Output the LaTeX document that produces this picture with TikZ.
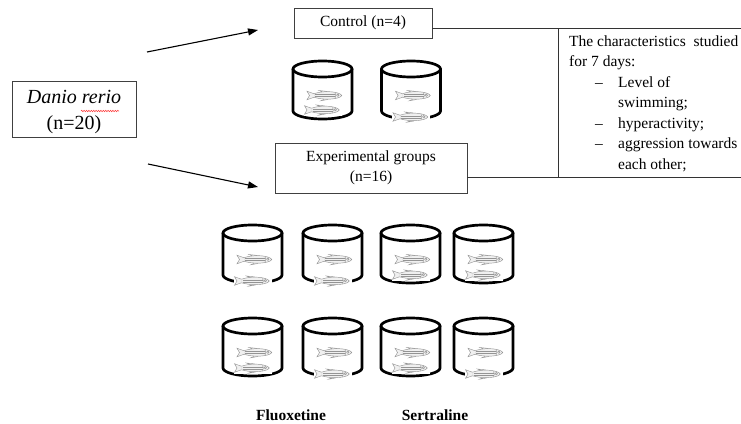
\documentclass[tikz,border=0pt]{standalone}
\usepackage{fontspec}
\setmainfont{Liberation Serif}
\usetikzlibrary{arrows.meta,decorations.pathmorphing,calc}

\tikzset{
  box/.style={draw=black!75, line width=0.9pt, fill=white, inner sep=0pt, align=center},
  link/.style={draw=black!80, line width=0.9pt},
  feed/.style={draw=black, line width=1.1pt, -{Triangle[length=10pt,width=7pt]}},
  txt/.style={font=\fontsize{15.5}{20.5}\selectfont},
  lbl/.style={font=\fontsize{15.5}{20.5}\selectfont\bfseries},
  listline/.style={txt, anchor=base west, inner sep=0pt},
  tankline/.style={line width=2.7pt, line cap=round, line join=round},
  fishline/.style={draw=black!42, line width=0.45pt},
  % a cylindrical tank, placed at the centre of its rim
  tank/.pic={
    \draw[tankline] (0,0) ellipse [x radius=29.5, y radius=8];
    \draw[tankline] (-29.5,0) -- (-29.5,42)
      .. controls (-29.5,46.4) and (-16.3,50) .. (0,50)
      .. controls (16.3,50) and (29.5,46.4) .. (29.5,42) -- (29.5,0);
  },
  % a small zebrafish on its white patch, head to the right
  fish/.pic={
    \fill[white] (-19,-5.5) rectangle (19,5.5);
    \draw[fishline, fill=black!6] (-11,-1.8)
      .. controls (-2,-4.8) and (9,-4.4) .. (15,-1.6)
      .. controls (17.5,-0.6) and (17.5,0.6) .. (15,1.6)
      .. controls (9,4.2) and (-2,4.4) .. (-11,1.8) -- cycle;
    \draw[fishline, fill=black!6] (-11,-1.8) -- (-18,-4.2) -- (-15.5,0) -- (-18,4.2) -- (-11,1.8);
    \draw[fishline] (-10,-0.9) -- (10,-0.9) (-10,0.9) -- (10,0.9);
    \draw[fishline] (-3,-3.6) -- (-6,-5) -- (2,-4.1);
    \draw[fishline] (-1,3.9) -- (-4,5.2) -- (3,4);
    \draw[fishline] (10,-2.6) .. controls (11.2,0) .. (10,2.6);
    \draw[fishline] (12.8,-0.3) circle (1.2);
  }
}

\begin{document}
\begin{tikzpicture}[x=1pt, y=-1pt]
  \useasboundingbox (0,0) rectangle (741,423);
  \clip (0,0) rectangle (741,423);

  % source population
  \node[box, minimum width=124pt, minimum height=56pt] (danio) at (74,109) {};
  \node[align=center, inner sep=0pt, font=\fontsize{20}{26}\selectfont] (daniotext) at (74,112)
        {{\itshape Danio rerio}\\(n=20)};
  \draw[red!80, line width=0.5pt,
        decorate, decoration={snake, amplitude=0.7pt, segment length=2.4pt}]
        ($(daniotext.center)+(7,-1)$) -- ($(daniotext.center)+(45,-1)$);

  % groups
  \node[box, txt, minimum width=138pt, minimum height=30pt] (control) at (363,23) {Control (n=4)};
  \node[box, txt, minimum width=192pt, minimum height=50pt] (expt) at (371,168)
        {Experimental groups\\(n=16)};

  % studied characteristics
  \node[draw=black!80, line width=0.9pt, anchor=north west, inner sep=0pt,
        minimum width=200pt, minimum height=149pt] (panel) at (558,28) {};
  \node[listline] (t1) at (569,46)    {The characteristics\ \ studied};
  \node[listline] (t2) at (569,66.5)  {for 7 days:};
  \node[listline] (t3) at (569,87)    {\hspace*{26pt}\makebox[23pt][l]{--}Level of};
  \node[listline] (t4) at (618,107.5) {swimming;};
  \node[listline] (t5) at (569,128)   {\hspace*{26pt}\makebox[23pt][l]{--}hyperactivity;};
  \node[listline] (t6) at (569,148.5) {\hspace*{26pt}\makebox[23pt][l]{--}aggression towards};
  \node[listline] (t7) at (618,169)   {each other;};

  \draw[link] (control.east |- panel.north) -- (panel.north west);
  \draw[link] (expt.east |- panel.south) -- (panel.south west);

  % arrows from the population to the groups
  \coordinate (a1s) at (147,52);
  \coordinate (a1e) at (258,30);
  \coordinate (a2s) at (148,164);
  \coordinate (a2e) at (258,187);
  \draw[feed] (a1s) -- (a1e);
  \draw[feed] (a2s) -- (a2e);

  % tanks: rim centre x / rim centre y / depth of the lower fish
  \foreach \cx/\cy/\low in {322.5/69/41, 411/69/48,
      252.5/233/48, 332.5/233/48, 410.5/233/42, 483.5/233/42,
      252.5/326/42, 332.5/326/48, 410.5/326/42, 483.5/326/48} {
    \pic at (\cx,\cy) {tank};
    \pic at (\cx+2.5,\cy+26.5) {fish};
    \pic at (\cx,\cy+\low) {fish};
  }

  % drug labels
  \node[lbl] (fluox) at (291,415) {Fluoxetine};
  \node[lbl] (sert) at (435,415) {Sertraline};
\end{tikzpicture}
\end{document}
